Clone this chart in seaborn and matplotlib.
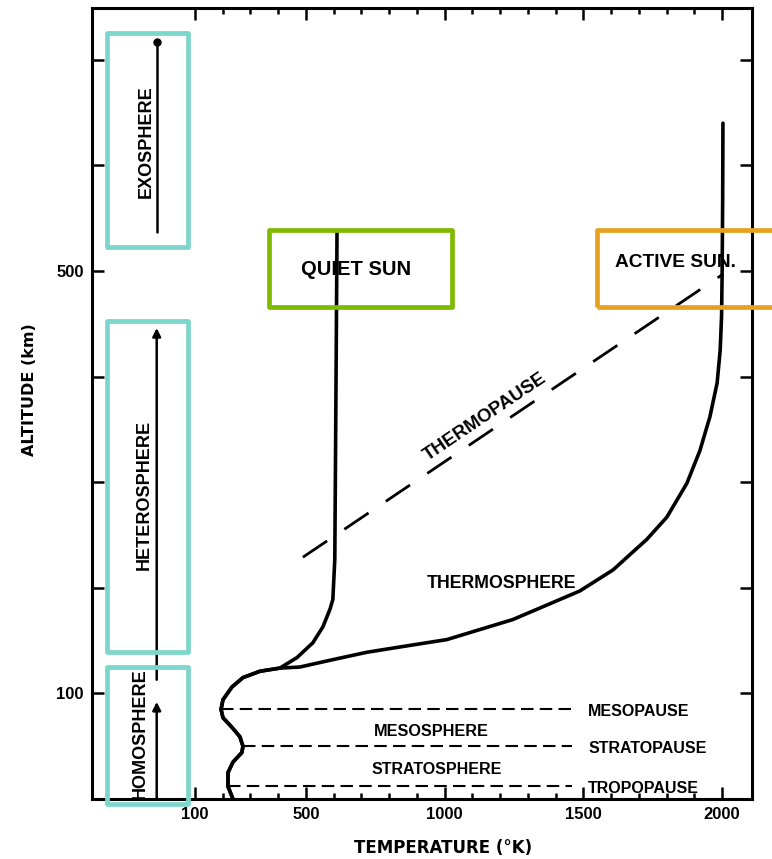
import numpy as np
import pandas as pd
import matplotlib
matplotlib.use("Agg")
import matplotlib.pyplot as plt
import matplotlib.transforms as mtransforms
from matplotlib.patches import Rectangle
from matplotlib.ticker import FixedLocator
import seaborn as sns

# ---- temperature profile of the atmosphere (K) versus altitude (km) ----
lower_alt = [0, 12, 25, 35, 44, 50, 59, 68, 77, 85, 94, 106, 115, 121, 124]
lower_temp = [237, 219, 219, 237, 269, 273, 262, 233, 201, 194, 201, 233, 273, 334, 406]

quiet_alt = [134, 148, 163, 180, 189, 227, 300, 378, 536]
quiet_temp = [468, 525, 561, 587, 597, 604, 606, 608, 612]

active_alt = [125, 132, 139, 144, 151, 170, 197, 217, 246, 267, 299, 330,
              362, 394, 425, 457, 497, 568, 640]
active_temp = [478, 597, 720, 839, 1008, 1246, 1487, 1607, 1729, 1801, 1873,
               1920, 1956, 1982, 1993, 1998, 2000, 2002, 2003]

# thermopause (dashed, from quiet to active sun)
thermopause_temp = [489, 2003]
thermopause_alt = [229, 497]

# pause levels in the lower atmosphere
pause_names = ["MESOPAUSE", "STRATOPAUSE", "TROPOPAUSE"]
pause_alt = [85, 50, 12]
pause_temp_start = [194, 273, 219]
pause_temp_end = [1459, 1459, 1459]

# layer names
layer_names = ["THERMOSPHERE", "MESOSPHERE", "STRATOSPHERE"]
layer_temp = [1206, 951, 972]
layer_alt = [204, 64, 28]
layer_size = [12.8, 11.7, 11.5]

# composition regions on the left side
region_names = ["EXOSPHERE", "HETEROSPHERE", "HOMOSPHERE"]
region_alt_lo = [537, 113, 0]
region_alt_hi = [717, 446, 92]
region_label_alt = [623, 288, 62]
region_box_lo = [523, 139, -5]
region_box_hi = [725, 453, 125]

x_ticks = [100, 500, 1000, 1500, 2000]
x_minor = list(range(100, 2001, 100))
y_ticks = [100, 200, 300, 400, 500, 600, 700]
y_tick_labels = ["100", "", "", "", "500", "", ""]

# ---- style ----
sns.set_style("ticks")
LETTER = ["Liberation Sans", "DejaVu Sans"]
plt.rcParams["font.family"] = LETTER
plt.rcParams["font.weight"] = "bold"
for key in ["text.color", "axes.labelcolor", "xtick.color", "ytick.color",
            "axes.edgecolor"]:
    plt.rcParams[key] = "black"

fig = plt.figure(figsize=(7.72, 8.59), dpi=100)
ax = fig.add_axes([0.1192, 0.0698, 0.855, 0.9208])

profiles = pd.concat([
    pd.DataFrame({"temperature": lower_temp + quiet_temp,
                  "altitude": lower_alt + quiet_alt, "sun": "quiet"}),
    pd.DataFrame({"temperature": lower_temp + active_temp,
                  "altitude": lower_alt + active_alt, "sun": "active"}),
])
for sun, sub in profiles.groupby("sun"):
    sns.lineplot(data=sub, x="temperature", y="altitude", sort=False,
                 estimator=None, color="black", lw=2.6, ax=ax, legend=False,
                 solid_joinstyle="round", solid_capstyle="round")

# thermopause
sns.lineplot(x=thermopause_temp, y=thermopause_alt, sort=False, estimator=None,
             color="black", lw=2.0, linestyle=(0, (10.5, 7.5)), ax=ax,
             legend=False)

# pause levels
for name, alt, t0, t1 in zip(pause_names, pause_alt, pause_temp_start, pause_temp_end):
    sns.lineplot(x=[t0, t1], y=[alt, alt], sort=False, estimator=None,
                 color="black", lw=1.5, linestyle=(0, (6, 3)), ax=ax, legend=False)
    ax.text(t1 + 58, alt - 2, name, fontsize=11.5, fontweight="bold",
            ha="left", va="center")

for name, t, alt, fs in zip(layer_names, layer_temp, layer_alt, layer_size):
    ax.text(t, alt, name, fontsize=fs, fontweight="bold",
            ha="center", va="center")

# thermopause label along the dashed line
angle = np.degrees(np.arctan2(thermopause_alt[1] - thermopause_alt[0],
                              thermopause_temp[1] - thermopause_temp[0]))
ax.text(1145, 362, "THERMOPAUSE", fontsize=13.5, fontweight="bold",
        ha="center", va="center", rotation=angle, rotation_mode="anchor",
        transform_rotates_text=True)

ax.text(681, 501, "QUIET SUN", fontsize=14.5, fontweight="bold",
        ha="center", va="center")
ax.text(1613, 508, "ACTIVE SUN.", fontsize=13.8, fontweight="bold",
        ha="left", va="center")

# composition regions: arrows and labels at the left edge
blend = mtransforms.blended_transform_factory(ax.transAxes, ax.transData)
arrow_x = 0.098
ax.plot([arrow_x, arrow_x], [region_alt_lo[0], region_alt_hi[0]], color="black",
        lw=1.8, transform=blend)
ax.plot([arrow_x], [region_alt_hi[0]], "o", color="black", ms=5, transform=blend)
for lo, hi in zip(region_alt_lo[1:], region_alt_hi[1:]):
    ax.annotate("", xy=(arrow_x, hi), xytext=(arrow_x, lo),
                xycoords=blend, textcoords=blend,
                arrowprops=dict(arrowstyle="-|>", color="black", lw=1.8,
                                mutation_scale=12, shrinkA=0, shrinkB=0))
for name, alt, xf in zip(region_names, region_label_alt, [0.082, 0.079, 0.073]):
    ax.text(xf, alt, name, fontsize=13, fontweight="bold",
            rotation=90, ha="center", va="center", transform=blend)

# highlight boxes
cyan = "#7dd6cb"
for lo, hi in zip(region_box_lo, region_box_hi):
    ax.add_patch(Rectangle((0.0227, lo), 0.1228, hi - lo, transform=blend,
                           fill=False, ec=cyan, lw=3.4, joinstyle="round",
                           clip_on=False, zorder=6))
ax.add_patch(Rectangle((367, 466), 659, 73, fill=False, ec="#7fba00", lw=3.4,
                       joinstyle="round", clip_on=False, zorder=6))
ax.add_patch(Rectangle((1549, 466), 800, 73, fill=False, ec="#e5a11f", lw=3.4,
                       joinstyle="round", clip_on=False, zorder=6))

# ---- axes ----
ax.set_xlim(-271, 2108)
ax.set_ylim(0, 749)
ax.set_xticks(x_ticks)
ax.set_xticklabels([str(v) for v in x_ticks])
ax.xaxis.set_minor_locator(FixedLocator(x_minor))
ax.set_yticks(y_ticks)
ax.set_yticklabels(y_tick_labels)
ax.tick_params(which="both", direction="in", top=True, right=True, width=1.8,
               labelsize=12, pad=6, color="black", labelcolor="black")
ax.tick_params(which="major", length=8.5)
ax.tick_params(which="minor", length=4.5)
for sp in ax.spines.values():
    sp.set_linewidth(2.2)
    sp.set_color("black")

ax.set_xlabel("TEMPERATURE (°K)", family="DejaVu Sans", fontsize=12, fontweight="bold")
ax.set_ylabel("ALTITUDE (km)", family="DejaVu Sans", fontsize=11.5, fontweight="bold")
ax.xaxis.label.set_va("center")
ax.yaxis.label.set_va("center")
ax.xaxis.set_label_coords(0.532, -0.062)
ax.yaxis.set_label_coords(-0.095, 0.517)

fig.savefig("out.png", dpi=100, facecolor="white")
